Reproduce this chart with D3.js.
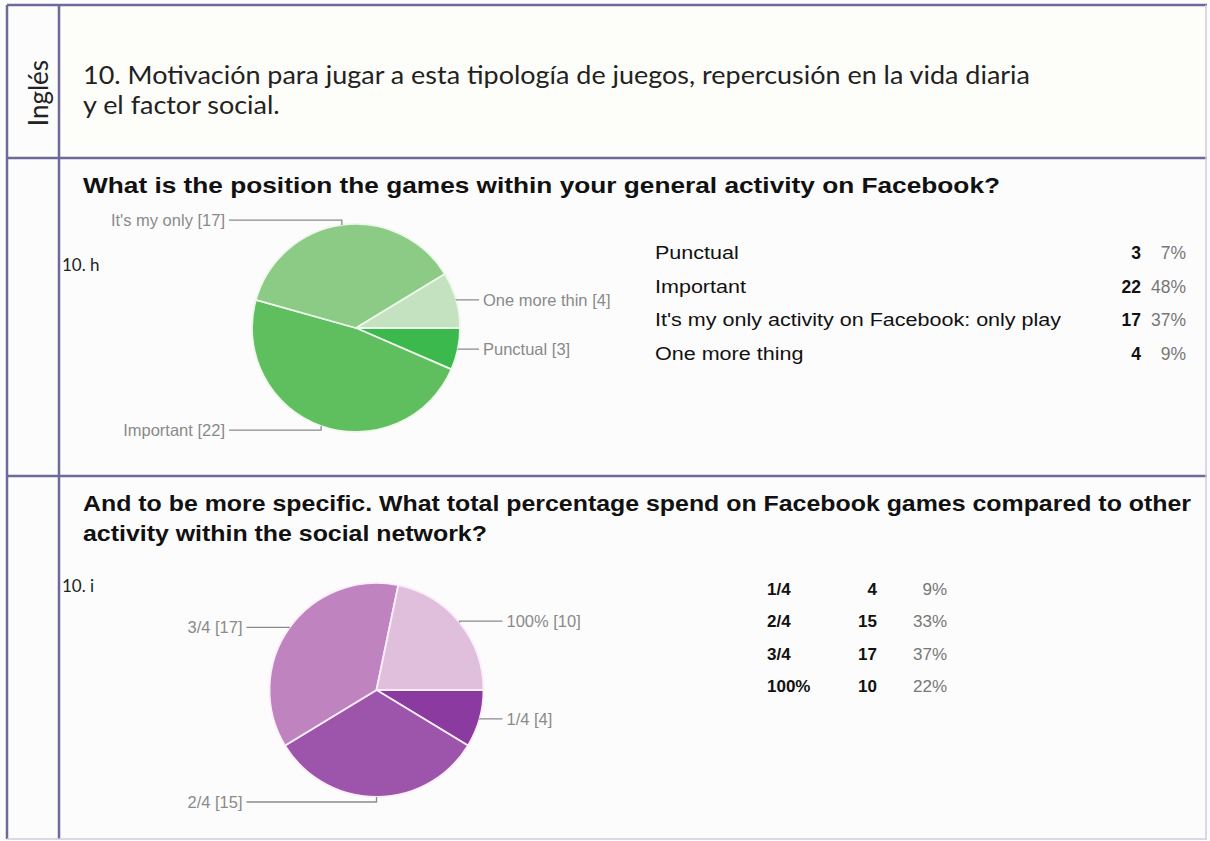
<!DOCTYPE html>
<html><head><meta charset="utf-8">
<script src="https://cdn.jsdelivr.net/npm/d3@7"></script>
<style>body{margin:0;background:#fcfcfc}svg{display:block}</style>
</head><body>
<svg id="c" width="1210" height="841"></svg>
<script>
// ---------- data ----------
const sideLabel = "Inglés";
const headerLines = ["10. Motivación para jugar a esta tipología de juegos, repercusión en la vida diaria", "y el factor social."];
const rowIds = ["10. h", "10. i"];

const q1Title = ["What is the position the games within your general activity on Facebook?"];
const q1Categories = ["Punctual", "Important", "It's my only activity on Facebook: only play", "One more thing"];
const q1PieLabels = ["Punctual", "Important", "It's my only", "One more thin"];
const q1Values = [3, 22, 17, 4];
const q1Colors = ["#3cb94c", "#5fbe5d", "#8ccb85", "#c4e2bf"];

const q2Title = ["And to be more specific. What total percentage spend on Facebook games compared to other", "activity within the social network?"];
const q2Categories = ["1/4", "2/4", "3/4", "100%"];
const q2PieLabels = ["1/4", "2/4", "3/4", "100%"];
const q2Values = [4, 15, 17, 10];
const q2Colors = ["#8b3a9f", "#9c55ab", "#bf84bf", "#e0bfdc"];

// ---------- drawing ----------
const svg = d3.select("#c");
const W = 1210, H = 841;
svg.append("rect").attr("width", W).attr("height", H).attr("fill", "#fcfcfc");
svg.append("rect").attr("x", 59).attr("y", 5).attr("width", 1148).attr("height", 153).attr("fill", "#fdfdf9");

const ARIAL = "'Liberation Sans', Arial, Helvetica, sans-serif";
const CAL = "Lato, 'Open Sans', sans-serif";

// grid lines
const gridCol = "#6d699b";
const g = svg.append("g").attr("stroke", gridCol).attr("stroke-width", 2.5);
g.append("line").attr("x1", 7).attr("x2", 1207).attr("y1", 5).attr("y2", 5);
g.append("line").attr("x1", 7).attr("x2", 7).attr("y1", 5).attr("y2", 839);
g.append("line").attr("x1", 59).attr("x2", 59).attr("y1", 5).attr("y2", 839);
g.append("line").attr("x1", 7).attr("x2", 1207).attr("y1", 158).attr("y2", 158);
g.append("line").attr("x1", 7).attr("x2", 1207).attr("y1", 476).attr("y2", 476);
svg.append("line").attr("x1", 1206).attr("x2", 1206).attr("y1", 5).attr("y2", 839).attr("stroke", "#cfcde0").attr("stroke-width", 1.5);
svg.append("line").attr("x1", 7).attr("x2", 1207).attr("y1", 839).attr("y2", 839).attr("stroke", "#cfcde0").attr("stroke-width", 1.5);

// stretch a set of text elements horizontally by one common factor
function stretch(sel, k) {
  sel.each(function () {
    const w = this.getComputedTextLength();
    d3.select(this).attr("textLength", w * k).attr("lengthAdjust", "spacingAndGlyphs");
  });
}
function fitFirst(sel, target) {
  const w = sel.nodes()[0].getComputedTextLength();
  stretch(sel, target / w);
}

// side label
svg.append("text").text(sideLabel)
  .attr("transform", "translate(48,93) rotate(-90)")
  .attr("text-anchor", "middle").attr("font-family", CAL).attr("font-size", 26)
  .attr("fill", "#222");

// header
const hdr = svg.append("g").attr("font-family", CAL).attr("font-size", 25).attr("fill", "#222");
const hdrT = hdr.selectAll("text").data(headerLines).join("text")
  .attr("x", 83).attr("y", (d, i) => 84 + i * 30).text(d => d);
fitFirst(hdrT, 947);

// row ids
svg.selectAll("text.rid").data(rowIds).join("text").attr("class", "rid")
  .attr("x", 62).attr("y", (d, i) => [271, 592][i])
  .attr("font-family", CAL).attr("font-size", 17).attr("fill", "#222").text(d => d);

// titles
function title(lines, y0, target) {
  const t = svg.append("g").attr("font-family", ARIAL).attr("font-weight", "bold").attr("font-size", 21.5).attr("fill", "#111");
  const s = t.selectAll("text").data(lines).join("text")
    .attr("x", 83).attr("y", (d, i) => y0 + i * 30).text(d => d);
  fitFirst(s, target);
}
title(q1Title, 193, 917);
title(q2Title, 511, 1108);

// pie charts
function pieChart(values, labels, colors, cx, cy, r, strokeCol) {
  const pie = d3.pie().sort(null).value(d => d.v)
    .startAngle(Math.PI / 2).endAngle(Math.PI / 2 + 2 * Math.PI);
  const arcs = pie(values.map((v, i) => ({ v, label: labels[i], color: colors[i] })));
  const arc = d3.arc().innerRadius(0).outerRadius(r);
  const gp = svg.append("g").attr("transform", `translate(${cx},${cy})`);
  gp.selectAll("path").data(arcs).join("path")
    .attr("d", arc).attr("fill", d => d.data.color)
    .attr("stroke", strokeCol).attr("stroke-width", 1.8).attr("stroke-linejoin", "round");

  const lab = gp.append("g");
  arcs.forEach(d => {
    const a = (d.startAngle + d.endAngle) / 2;
    const ax = r * Math.sin(a), ay = -r * Math.cos(a);
    const right = Math.sin(a) > 0.02;
    const ly = ay - 5 * Math.pow(Math.cos(a), 3);
    const tx = right ? r + 23 : -(r + 27);
    const lx = right ? tx - 4 : tx + 4;
    lab.append("path")
      .attr("d", `M${lx},${ly}L${ax},${ly}L${ax},${ay}`)
      .attr("fill", "none").attr("stroke", "#8a8a8a").attr("stroke-width", 1.3);
    lab.append("text")
      .attr("x", tx).attr("y", ly).attr("dy", "0.35em")
      .attr("text-anchor", right ? "start" : "end")
      .attr("font-family", ARIAL).attr("font-size", 16.5).attr("fill", "#8a8a8a")
      .text(`${d.data.label} [${d.data.v}]`);
  });
}
pieChart(q1Values, q1PieLabels, q1Colors, 356, 328, 104, "#eef7ec");
pieChart(q2Values, q2PieLabels, q2Colors, 376.5, 690, 107, "#fbeefa");

// tables
function table(cats, values, xLabel, xCount, xPct, yRange, labelBold, fs, k) {
  const total = d3.sum(values);
  const y = d3.scalePoint().domain(cats).range(yRange);
  const t = svg.append("g").attr("font-family", ARIAL).attr("font-size", fs);
  const labs = t.selectAll("text.lab").data(cats).join("text").attr("class", "lab")
    .attr("x", xLabel).attr("y", d => y(d)).attr("dy", "0.35em")
    .attr("font-weight", labelBold ? "bold" : "normal").attr("fill", "#111").text(d => d);
  t.selectAll("text.cnt").data(cats).join("text").attr("class", "cnt")
    .attr("x", xCount).attr("y", d => y(d)).attr("dy", "0.35em")
    .attr("text-anchor", "end").attr("font-weight", "bold").attr("fill", "#111").text((d, i) => values[i]);
  t.selectAll("text.pct").data(cats).join("text").attr("class", "pct")
    .attr("x", xPct).attr("y", d => y(d)).attr("dy", "0.35em")
    .attr("text-anchor", "end").attr("fill", "#777").text((d, i) => Math.round(values[i] / total * 100) + "%");
  if (k) stretch(labs, k);
}
table(q1Categories, q1Values, 655, 1141, 1186, [253, 354], false, 17.5, 1.23);
table(q2Categories, q2Values, 767, 877, 947, [589, 686], true, 17, 1.0);
</script>
</body></html>
